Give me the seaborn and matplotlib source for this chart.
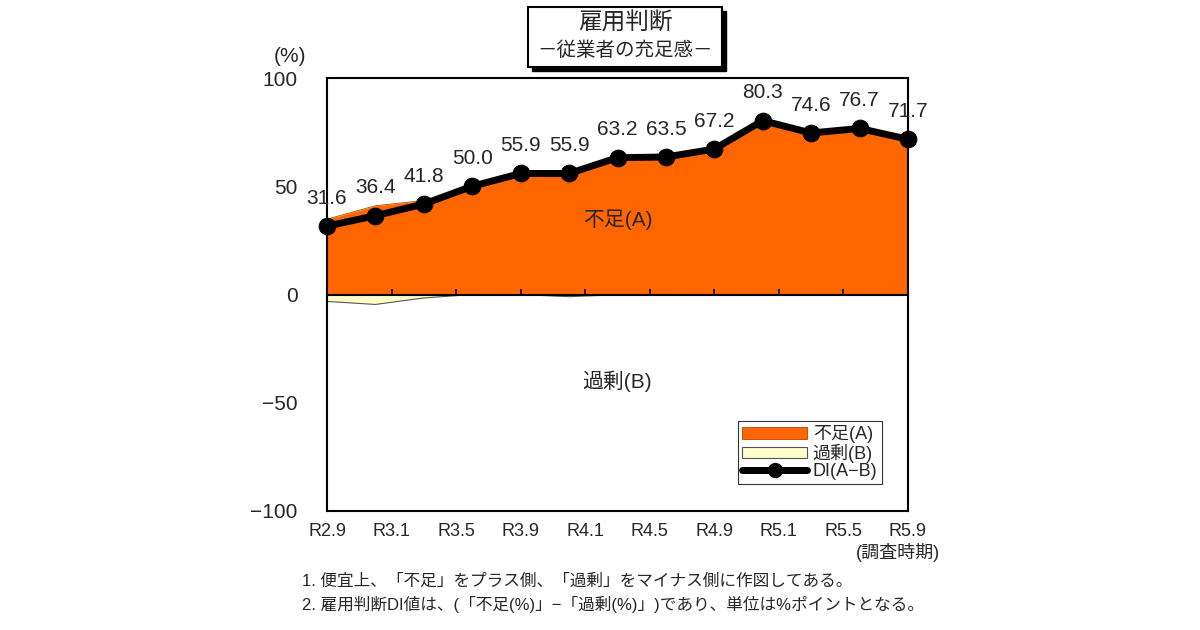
import numpy as np
import pandas as pd
import matplotlib
matplotlib.use("Agg")
import matplotlib.pyplot as plt
import seaborn as sns
from matplotlib.patches import Patch, Rectangle
from matplotlib.lines import Line2D

# quarterly survey, months counted from R2.9
months = [0, 3, 6, 9, 12, 15, 18, 21, 24, 27, 30, 33, 36]
di = [31.6, 36.4, 41.8, 50.0, 55.9, 55.9, 63.2, 63.5, 67.2, 80.3, 74.6, 76.7, 71.7]
shortage = [34.8, 41.0, 43.4, 50.0, 55.9, 56.9, 63.3, 63.5, 67.2, 80.3, 74.6, 76.7, 71.7]
surplus = [3.2, 4.6, 1.6, 0.0, 0.0, 1.0, 0.1, 0.0, 0.0, 0.0, 0.0, 0.0, 0.0]

tick_months = [0, 4, 8, 12, 16, 20, 24, 28, 32, 36]
tick_labels = ["R2.9", "R3.1", "R3.5", "R3.9", "R4.1", "R4.5", "R4.9", "R5.1", "R5.5", "R5.9"]
y_ticks = [100, 50, 0, -50, -100]

df = pd.DataFrame({"month": months, "DI": di, "A": shortage, "B": surplus})

sns.set_style("white")
plt.rcParams["font.family"] = ["Liberation Sans", "Noto Sans CJK JP", "DejaVu Sans"]

ORANGE = "#FF6600"
CREAM = "#FFFFCC"

fig = plt.figure(figsize=(12, 6.3), dpi=100)
ax = fig.add_axes([327 / 1200, 1 - 511 / 630, 581 / 1200, 433 / 630])

ax.fill_between(df["month"], 0, df["A"], color=ORANGE, linewidth=0)
ax.plot(df["month"], df["A"], color="#B34700", lw=0.6)
ax.fill_between(df["month"], 0, -df["B"], color=CREAM, linewidth=0)
ax.plot(df["month"], -df["B"], color="#555555", lw=0.8)
ax.axhline(0, color="black", lw=1.5, zorder=3)
ax.vlines(tick_months, 0, 2.5, color="black", lw=1.2, zorder=3)

sns.lineplot(data=df, x="month", y="DI", ax=ax, color="black", lw=5,
             marker="o", markersize=12, markeredgecolor="black", clip_on=False, zorder=5)

for m, v in zip(months, di):
    ax.annotate(f"{v:.1f}", (m, v), xytext=(0, 20), textcoords="offset points",
                ha="center", va="center", fontsize=15, zorder=6)

ax.set_xlim(0, 36)
ax.set_ylim(-100, 100)
ax.set_xticks(tick_months, tick_labels, fontsize=13)
ax.set_yticks(y_ticks, [str(t).replace("-", "\u2212") for t in y_ticks], fontsize=15)
ax.tick_params(axis="x", length=0, pad=9)
ax.tick_params(axis="y", direction="in", length=5, width=1.2, pad=21)
ax.set_xlabel("")
ax.set_ylabel("")
for s in ax.spines.values():
    s.set_color("black")
    s.set_linewidth(1.5)

ax.text(0.5, 0.672, "不足(A)", transform=ax.transAxes, ha="center", va="center", fontsize=15)
ax.text(0.5, 0.3, "過剰(B)", transform=ax.transAxes, ha="center", va="center", fontsize=15)

handles = [Patch(facecolor=ORANGE, edgecolor="#B34700", lw=0.6),
           Patch(facecolor=CREAM, edgecolor="#555555", lw=0.8),
           Line2D([], [], color="black", lw=5, marker="o", markersize=10)]
leg = ax.legend(handles, ["不足(A)", "過剰(B)", "DI(A\u2212B)"], loc="lower right",
                bbox_to_anchor=(0.955, 0.062), fontsize=13, frameon=True, fancybox=False,
                handlelength=3.6, handleheight=0.6, labelspacing=0.0, borderpad=0.25,
                handletextpad=0.3, borderaxespad=0)
leg.get_frame().set_edgecolor("black")
leg.get_frame().set_linewidth(0.8)

# title box with shadow
fig.patches.append(Rectangle((532 / 1200, 1 - 71 / 630), 194 / 1200, 60 / 630,
                             transform=fig.transFigure, facecolor="black", edgecolor="black"))
fig.patches.append(Rectangle((528 / 1200, 1 - 67 / 630), 194 / 1200, 60 / 630,
                             transform=fig.transFigure, facecolor="white", edgecolor="black", lw=1.5))
fig.text(625 / 1200, 1 - 24 / 630, "雇用判断", ha="center", va="center", fontsize=17)
fig.text(625 / 1200, 1 - 51 / 630, "\uff0d従業者の充足感\uff0d", ha="center", va="center", fontsize=14)

fig.text(290 / 1200, 1 - 57 / 630, "(%)", ha="center", va="center", fontsize=15)
fig.text(898 / 1200, 1 - 552 / 630, "(調査時期)", ha="center", va="center", fontsize=13)
fig.text(302 / 1200, 1 - 581 / 630, "1. 便宜上、「不足」をプラス側、「過剰」をマイナス側に作図してある。",
         ha="left", va="center", fontsize=12)
fig.text(302 / 1200, 1 - 604 / 630, "2. 雇用判断DI値は、(「不足(%)」−「過剰(%)」)であり、単位は%ポイントとなる。",
         ha="left", va="center", fontsize=12)

fig.savefig("out.png", dpi=100, facecolor="white")
